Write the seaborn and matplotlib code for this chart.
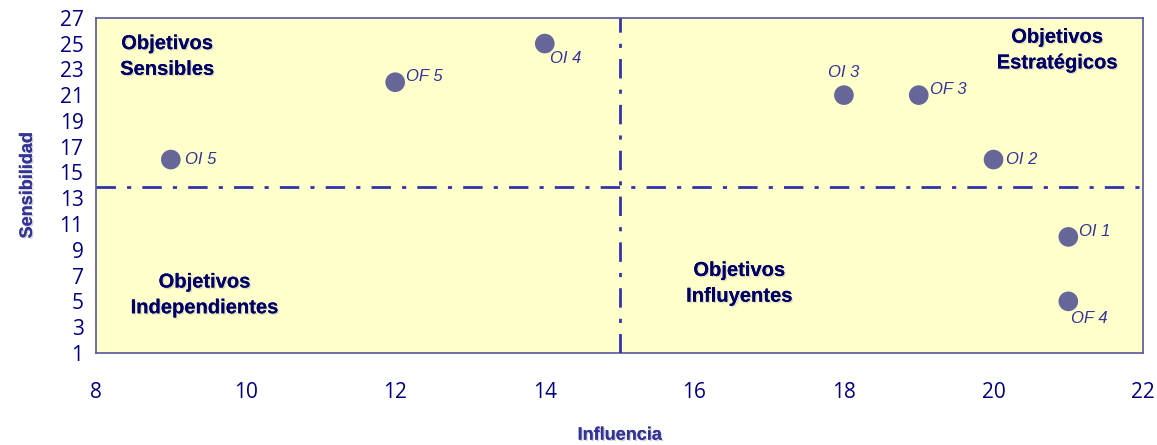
import pandas as pd
import seaborn as sns
import matplotlib.pyplot as plt
import matplotlib.patheffects as pe

# data
labels = ["OI 5", "OF 5", "OI 4", "OI 3", "OF 3", "OI 2", "OI 1", "OF 4"]
influencia = [9, 12, 14, 18, 19, 20, 21, 21]
sensibilidad = [16, 22, 25, 21, 21, 16, 10, 5]

x_ticks = [8, 10, 12, 14, 16, 18, 20, 22]
y_ticks = list(range(1, 28, 2))
x_cut = 15
y_cut = 13.9

df = pd.DataFrame({"Influencia": influencia, "Sensibilidad": sensibilidad, "label": labels})

sns.set_style("white")
plt.rcParams["font.family"] = ["Liberation Sans", "DejaVu Sans"]

fig = plt.figure(figsize=(11.57, 4.45), dpi=100)
ax = fig.add_axes([0.083, 0.207, 0.905, 0.753])
ax.set_facecolor("#FFFFCC")

sns.scatterplot(data=df, x="Influencia", y="Sensibilidad", ax=ax, s=200,
                color="#666699", edgecolor="none", zorder=5)

# quadrant separators
ax.axvline(x_cut, color="#3333AA", lw=2, dashes=(7, 4, 1.5, 4), zorder=3)
ax.axhline(y_cut, color="#3333AA", lw=2, dashes=(7, 4, 1.5, 4), zorder=3)

# point labels (offset in points, alignment)
offsets = {
    "OI 5": ((10, 0), "left", "center"),
    "OF 5": ((8, 4), "left", "center"),
    "OI 4": ((4, -11), "left", "center"),
    "OI 3": ((0, 16), "center", "center"),
    "OF 3": ((8, 4), "left", "center"),
    "OI 2": ((9, 0), "left", "center"),
    "OI 1": ((8, 4), "left", "center"),
    "OF 4": ((2, -12), "left", "center"),
}
for lab, xv, yv in zip(labels, influencia, sensibilidad):
    off, ha, va = offsets[lab]
    ax.annotate(lab, (xv, yv), xytext=off, textcoords="offset points",
                ha=ha, va=va, fontsize=12, style="italic", color="#333399")

# quadrant titles
shadow = [pe.withSimplePatchShadow(offset=(1, -1), shadow_rgbFace="#AAAAAA", alpha=0.4), pe.Normal()]
quad = [
    (8.95, 24.0, "Objetivos\nSensibles"),
    (20.85, 24.5, "Objetivos\nEstratégicos"),
    (9.45, 5.5, "Objetivos\nIndependientes"),
    (16.6, 6.4, "Objetivos\nInfluyentes"),
]
for qx, qy, qt in quad:
    ax.text(qx, qy, qt, ha="center", va="center", fontsize=14.5, fontweight="bold",
            color="#000066", linespacing=1.45, path_effects=shadow, zorder=6)

ax.set_xlim(8, 22)
ax.set_ylim(1, 27)
ax.set_xticks(x_ticks)
ax.set_yticks(y_ticks)
ax.tick_params(axis="both", direction="out", length=6, width=1, color="#7777BB",
               labelcolor="#000080", labelsize=15)
ax.tick_params(axis="x", pad=15)
ax.tick_params(axis="y", pad=3)
for lbl in ax.get_xticklabels() + ax.get_yticklabels():
    lbl.set_family(["Open Sans", "DejaVu Sans"])

for side in ["left", "bottom", "top", "right"]:
    ax.spines[side].set_visible(True)
    ax.spines[side].set_color("#5555A0")
    ax.spines[side].set_linewidth(1.2)

lab_shadow = [pe.withSimplePatchShadow(offset=(1, -1), shadow_rgbFace="#AAAAAA", alpha=0.5), pe.Normal()]
ax.set_xlabel("Influencia", fontsize=13, fontweight="bold", color="#333399",
              labelpad=17, path_effects=lab_shadow)
ax.set_ylabel("Sensibilidad", fontsize=13, fontweight="bold", color="#333399",
              labelpad=17, path_effects=lab_shadow)

fig.savefig("out.png", dpi=100)
